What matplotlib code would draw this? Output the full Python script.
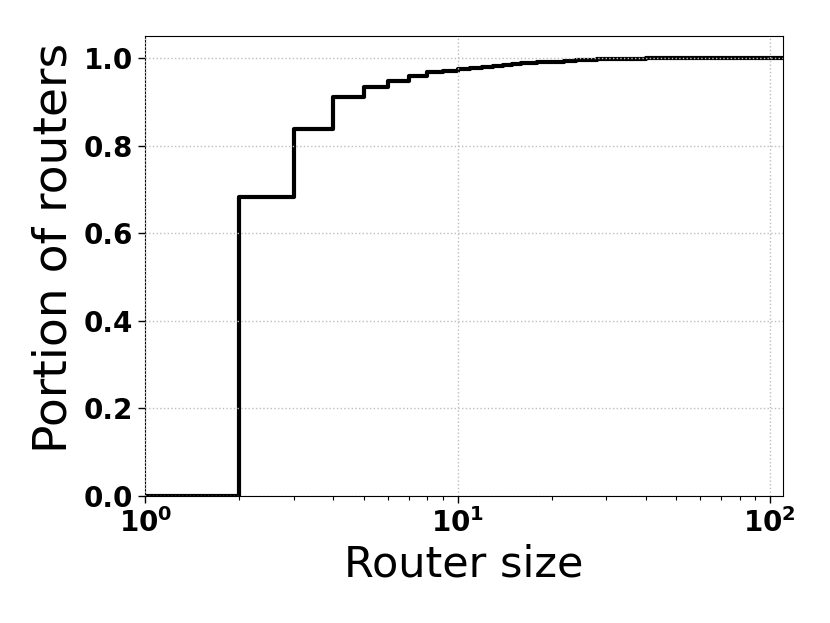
import matplotlib
matplotlib.use("Agg")
import matplotlib.pyplot as plt
import numpy as np

# Router sizes and cumulative portion of routers
router_size = [1, 2, 3, 4, 5, 6, 7, 8, 9, 10, 11, 12, 13, 14, 15, 16, 17, 18,
               19, 20, 22, 24, 26, 28, 30, 35, 40, 50, 60, 80, 100, 120]
portion = [0.0, 0.683, 0.837, 0.910, 0.934, 0.947, 0.958, 0.967, 0.971, 0.975,
           0.978, 0.980, 0.982, 0.984, 0.986, 0.988, 0.989, 0.990, 0.991, 0.992,
           0.994, 0.995, 0.996, 0.997, 0.998, 0.9985, 0.999, 0.9993, 0.9995,
           0.9998, 0.9999, 1.0]

x_label = "Router size"
y_label = "Portion of routers"
y_ticks = [0.0, 0.2, 0.4, 0.6, 0.8, 1.0]

fig = plt.figure(figsize=(8.3, 6.23), dpi=100)
ax = fig.add_axes([0.175, 0.204, 0.768, 0.738])

ax.step(router_size, portion, where="post", color="black", linewidth=3, zorder=2)

ax.set_xscale("log")
ax.set_xlim(1, 110)
ax.set_ylim(0, 1.05)
ax.set_yticks(y_ticks)
ax.set_yticklabels([f"{v:.1f}" for v in y_ticks])

ax.grid(True, which="major", linestyle=":", color="#bdbdbd", linewidth=1, zorder=3)
ax.set_axisbelow(False)

ax.tick_params(axis="both", which="major", labelsize=20, length=5, width=1)
ax.tick_params(axis="x", which="minor", length=3, width=0.8)
for lab in ax.get_xticklabels() + ax.get_yticklabels():
    lab.set_fontweight("bold")

ax.set_xlabel(x_label, fontsize=31, labelpad=4)
ax.set_ylabel(y_label, fontsize=34)
ax.yaxis.set_label_coords(-0.108, 0.54)

fig.savefig("out.png", dpi=100)
